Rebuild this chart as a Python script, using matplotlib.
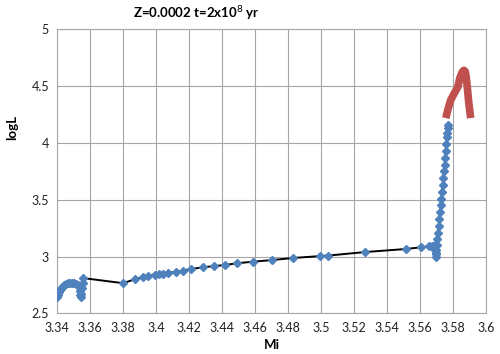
import matplotlib
matplotlib.use("Agg")
import matplotlib.pyplot as plt

BLUE, RED, GRID = "#4f81bd", "#c0504d", "#a6a6a6"

plt.rcParams.update({
    "font.family": ["Lato", "DejaVu Sans"], "font.size": 9,
    "axes.edgecolor": GRID, "xtick.color": "#222222", "ytick.color": "#222222",
})

# main-sequence / hook track (blue diamonds joined by black line)
mi_blue = [3.3400, 3.3405, 3.3412, 3.3420, 3.3430, 3.3440, 3.3452, 3.3465,
           3.3478, 3.3490, 3.3502, 3.3515, 3.3527, 3.3535, 3.3538, 3.3540,
           3.3541, 3.3545, 3.3550, 3.3553, 3.3556,
           3.3800, 3.3870, 3.3918, 3.3948, 3.3992, 3.4018, 3.4042, 3.4073,
           3.4117, 3.4162, 3.4210, 3.4283, 3.4348, 3.4416, 3.4487, 3.4584,
           3.4705, 3.4830, 3.4996, 3.5042, 3.5265, 3.5513, 3.5604, 3.5655,
           3.5675, 3.5690, 3.5693, 3.5694, 3.5695, 3.5697, 3.5699, 3.5700,
           3.5705, 3.5709, 3.5713, 3.5717, 3.5721, 3.5725, 3.5729, 3.5733,
           3.5737, 3.5741, 3.5745, 3.5749, 3.5753, 3.5757, 3.5760, 3.5763,
           3.5765, 3.5767, 3.5769]
logl_blue = [2.64, 2.665, 2.69, 2.71, 2.73, 2.745, 2.755, 2.763,
             2.768, 2.77, 2.768, 2.76, 2.745, 2.725, 2.695, 2.665,
             2.64, 2.67, 2.72, 2.765, 2.81,
             2.765, 2.80, 2.817, 2.826, 2.84, 2.845, 2.85, 2.855,
             2.865, 2.875, 2.89, 2.905, 2.915, 2.925, 2.94, 2.954,
             2.969, 2.987, 3.004, 3.008, 3.039, 3.066, 3.081, 3.09,
             3.095, 3.10, 3.06, 3.03, 3.00, 3.02, 3.06, 3.10,
             3.15, 3.21, 3.27, 3.33, 3.39, 3.45, 3.51, 3.57,
             3.63, 3.69, 3.75, 3.81, 3.87, 3.93, 3.99, 4.05,
             4.09, 4.13, 4.16]

# post-main-sequence track (red)
mi_red = [3.5756, 3.5770, 3.5786, 3.5805, 3.5829, 3.5841, 3.5856, 3.5866,
          3.5874, 3.5880, 3.5886, 3.5893, 3.5900, 3.5907]
logl_red = [4.219, 4.30, 4.378, 4.43, 4.492, 4.571, 4.625, 4.64,
            4.63, 4.58, 4.50, 4.39, 4.30, 4.219]

xticks = [3.34, 3.36, 3.38, 3.4, 3.42, 3.44, 3.46, 3.48, 3.5, 3.52, 3.54,
          3.56, 3.58, 3.6]
xlabels = ["3.34", "3.36", "3.38", "3.4", "3.42", "3.44", "3.46", "3.48",
           "3.5", "3.52", "3.54", "3.56", "3.58", "3.6"]
yticks = [2.5, 3, 3.5, 4, 4.5, 5]
ylabels = ["2.5", "3", "3.5", "4", "4.5", "5"]

fig = plt.figure(figsize=(5.0, 3.54), dpi=100)
ax = fig.add_axes([0.1146, 0.115, 0.8574, 0.802])

ax.plot(mi_blue, logl_blue, color="black", lw=1.4, zorder=2)
ax.plot(mi_blue, logl_blue, "D", color=BLUE, ms=3.8, mec=BLUE, zorder=3)
ax.plot(mi_red, logl_red, color=RED, lw=5.5, solid_capstyle="butt",
        solid_joinstyle="round", zorder=4)

ax.set_xlim(3.34, 3.6)
ax.set_ylim(2.5, 5)
ax.set_xticks(xticks, xlabels)
ax.set_yticks(yticks, ylabels)
ax.tick_params(length=0, pad=6)
ax.grid(True, color=GRID, lw=0.8)
ax.set_axisbelow(True)
for s in ax.spines.values():
    s.set_color(GRID)
    s.set_linewidth(0.8)

fig.text(0.392, 0.96, "Z=0.0002 t=2x10$^{8}$ yr", ha="center", va="center",
         fontsize=9.5, fontweight="bold")
fig.text(0.544, 0.025, "Mi", ha="center", va="center", fontsize=9.5,
         fontweight="bold")
fig.text(0.024, 0.641, "logL", ha="center", va="center", fontsize=9.5,
         fontweight="bold", rotation=90)

fig.savefig("out.png", dpi=100)
